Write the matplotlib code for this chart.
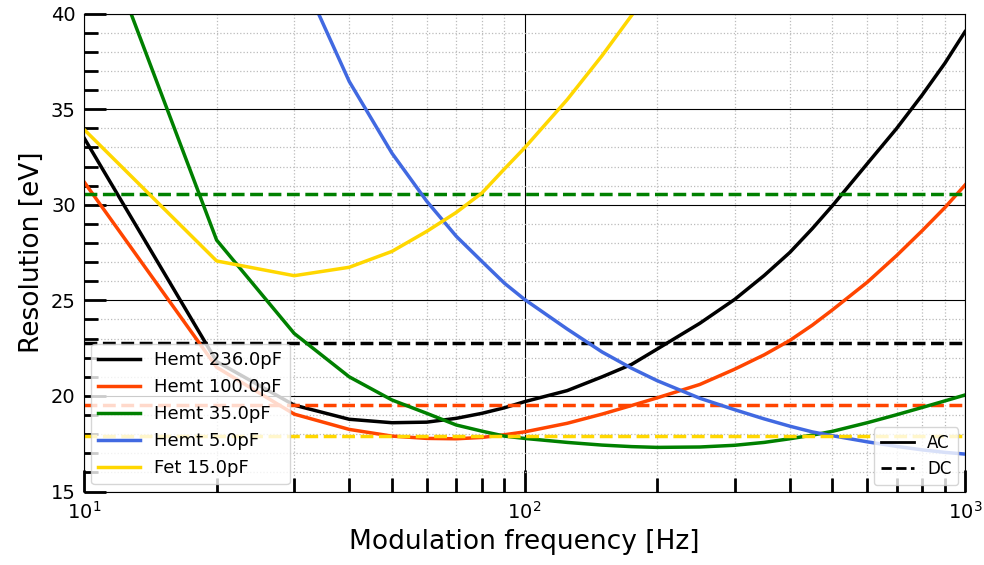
import numpy as np
import matplotlib
matplotlib.use('Agg')
import matplotlib.pyplot as plt
from matplotlib.lines import Line2D
from matplotlib.ticker import MultipleLocator

plt.rcParams['font.family'] = 'DejaVu Sans'

# modulation frequencies [Hz]
freq = [10, 20, 30, 40, 50, 60, 70, 80, 90, 100, 125, 150, 175, 200, 250,
        300, 350, 400, 450, 500, 600, 700, 800, 900, 1000]

nan = np.nan
# AC resolution [eV] per detector config
hemt236 = [33.5, 21.8, 19.52, 18.78, 18.60, 18.63, 18.83, 19.09, 19.38, 19.70,
           20.28, 21.0, 21.65, 22.45, 23.8, 25.05, 26.3, 27.5, 28.75, 29.95,
           32.15, 34.0, 35.75, 37.4, 39.05]
hemt100 = [31.2, 21.5, 19.05, 18.25, 17.90, 17.78, 17.76, 17.83, 17.97, 18.12,
           18.57, 19.05, 19.5, 19.9, 20.6, 21.4, 22.15, 22.9, 23.7, 24.5,
           25.95, 27.35, 28.65, 29.85, 31.03]
hemt35 = [46.5, 28.15, 23.27, 21.0, 19.79, 19.09, 18.48, 18.16, 17.9, 17.78,
          17.57, 17.43, 17.35, 17.31, 17.33, 17.42, 17.57, 17.76, 17.95, 18.15,
          18.6, 19.02, 19.4, 19.74, 20.05]
hemt5 = [nan, nan, 42.8, 36.45, 32.70, 30.18, 28.35, 27.04, 25.9, 25.05,
         23.5, 22.3, 21.45, 20.8, 19.88, 19.28, 18.8, 18.42, 18.12, 17.92,
         17.6, 17.36, 17.18, 17.05, 16.96]
fet15 = [33.94, 27.06, 26.29, 26.73, 27.56, 28.61, 29.60, 30.61, 31.87, 32.97,
         35.5, 37.8, 39.9, 41.7, nan, nan, nan, nan, nan, nan,
         nan, nan, nan, nan, nan]

labels = ['Hemt 236.0pF', 'Hemt 100.0pF', 'Hemt 35.0pF', 'Hemt 5.0pF', 'Fet 15.0pF']
colors = ['black', 'orangered', 'green', 'royalblue', 'gold']
ac_curves = [hemt236, hemt100, hemt35, hemt5, fet15]
# DC resolution (flat), blue one is off the chart
dc_levels = [22.75, 19.52, 30.56, nan, 17.90]

fig = plt.figure(figsize=(9.84, 5.65), dpi=100)
ax = fig.add_axes([0.0854, 0.130, 0.8953, 0.846])

for lab, col, ac, dc in zip(labels, colors, ac_curves, dc_levels):
    ax.plot(freq, ac, color=col, lw=2.5, label=lab)
    if not np.isnan(dc):
        ax.plot([freq[0], freq[-1]], [dc, dc], color=col, lw=2.5, ls='--')

ax.set_xscale('log')
ax.set_xlim(10, 1000)
ax.set_ylim(15, 40)
ax.yaxis.set_major_locator(MultipleLocator(5))
ax.yaxis.set_minor_locator(MultipleLocator(1))

# grid: solid major, dotted minor
ax.grid(which='major', color='black', lw=0.8, ls='-')
ax.grid(which='minor', color='#bbbbbb', lw=0.9, ls=':')
ax.set_axisbelow(True)

ax.tick_params(which='major', direction='in', length=16, width=2, labelsize=14)
ax.tick_params(which='minor', direction='in', length=10, width=2)
ax.tick_params(top=False, right=False, which='both')
ax.tick_params(axis='x', which='major', pad=7)
ax.tick_params(axis='y', which='major', pad=6)

ax.set_xlabel('Modulation frequency [Hz]', fontsize=19)
ax.set_ylabel('Resolution [eV]', fontsize=19)

# legends
leg1 = ax.legend(loc='lower left', fontsize=13, borderaxespad=0.4, handlelength=2.3)
ax.add_artist(leg1)
handles = [Line2D([0], [0], color='black', lw=2, ls='-'),
           Line2D([0], [0], color='black', lw=2, ls='--')]
ax.legend(handles, ['AC', 'DC'], loc='lower right', fontsize=12, borderaxespad=0.4)

plt.savefig('out.png', dpi=100)
print("saved out.png")
